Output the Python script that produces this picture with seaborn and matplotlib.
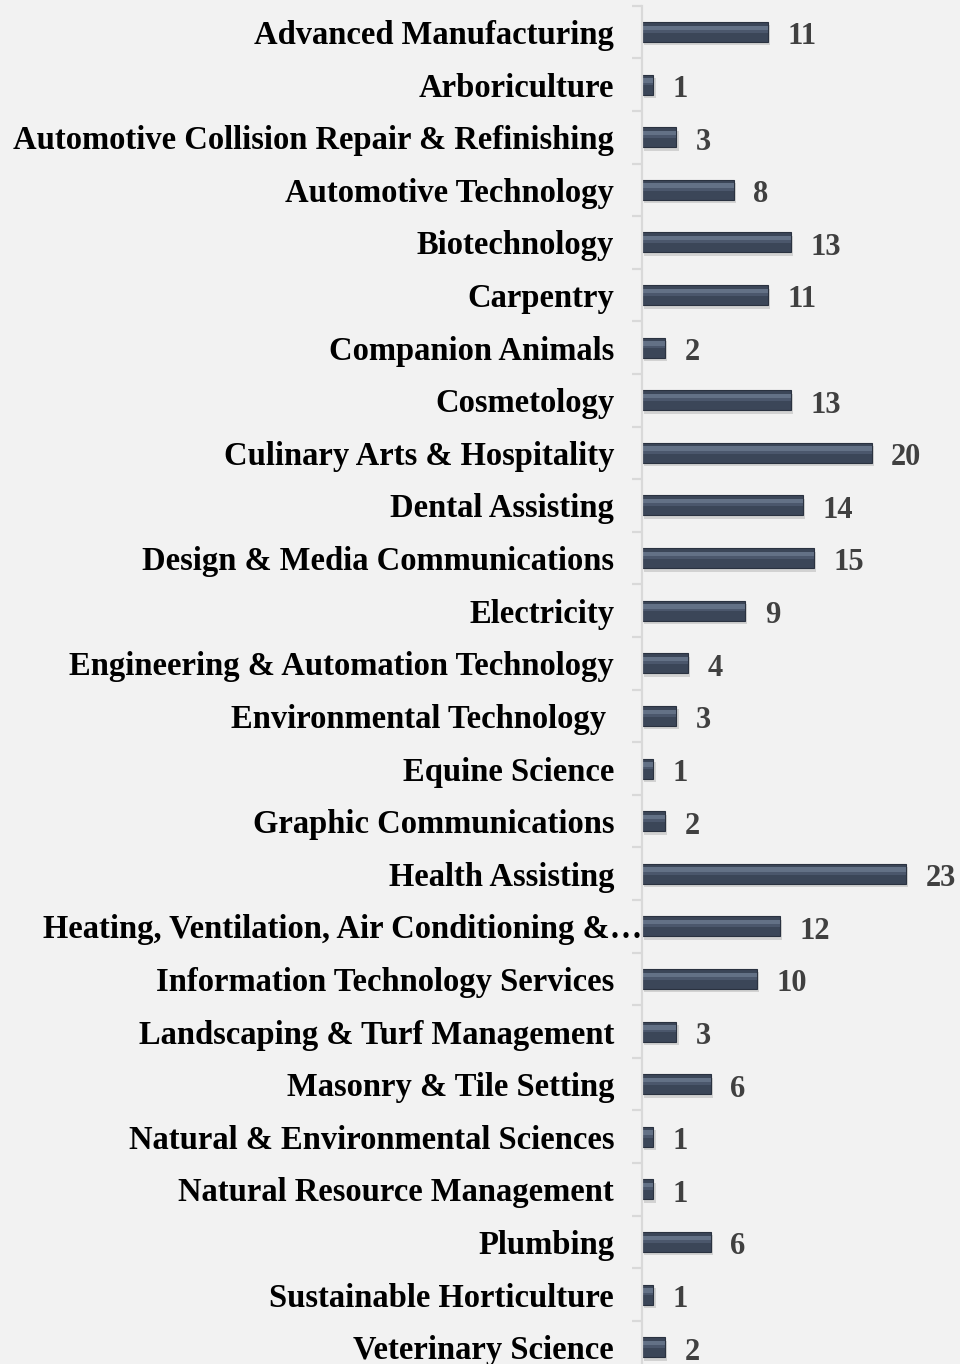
import matplotlib
matplotlib.use("Agg")
import matplotlib.pyplot as plt
import matplotlib.patheffects as pe
import matplotlib.transforms as mtransforms
from matplotlib.patches import Rectangle
import seaborn as sns
import pandas as pd
import numpy as np

categories = [
    "Advanced Manufacturing", "Arboriculture",
    "Automotive Collision Repair & Refinishing", "Automotive Technology",
    "Biotechnology", "Carpentry", "Companion Animals", "Cosmetology",
    "Culinary Arts & Hospitality", "Dental Assisting",
    "Design & Media Communications", "Electricity",
    "Engineering & Automation Technology", "Environmental Technology ",
    "Equine Science", "Graphic Communications", "Health Assisting",
    "Heating, Ventilation, Air Conditioning &\u2026",
    "Information Technology Services", "Landscaping & Turf Management",
    "Masonry & Tile Setting", "Natural & Environmental Sciences",
    "Natural Resource Management", "Plumbing", "Sustainable Horticulture",
    "Veterinary Science",
]
values = [11, 1, 3, 8, 13, 11, 2, 13, 20, 14, 15, 9, 4, 3, 1, 2, 23, 12, 10,
          3, 6, 1, 1, 6, 1, 2]

df = pd.DataFrame({"program": categories, "count": values})

sns.set_theme(style="white")
plt.rcParams["font.family"] = ["Liberation Serif", "DejaVu Serif"]

W, H = 960, 1364
fig = plt.figure(figsize=(W / 100, H / 100), dpi=100, facecolor="#f2f2f2")
ax_left = 642 / W
top_px, bot_px = 5.7, 1373.5
ax = fig.add_axes([ax_left, (H - bot_px) / H, 1 - ax_left, (bot_px - top_px) / H])
ax.set_facecolor("#f2f2f2")

bar_color = "#3b4658"
sns.barplot(data=df, x="count", y="program", orient="h", color=bar_color,
            width=0.38, saturation=1, ax=ax, edgecolor="#2a3240", linewidth=0.8)

ax.set_xlim(0, (W - 642) / 11.48)
ax.set_ylim(len(categories) - 0.5, -0.5)

# bevel highlight + soft shadow derived from the drawn bars
for p in list(ax.patches):
    p.set_path_effects([pe.SimplePatchShadow(offset=(1.5, -2.5), shadow_rgbFace="#000000", alpha=0.13), pe.Normal()])
    x0, y0 = p.get_x(), p.get_y()
    w, h = p.get_width(), p.get_height()
    ax.add_patch(Rectangle((x0, y0 + h * 0.18), w, h * 0.22, facecolor="#718096",
                           edgecolor="none", alpha=0.75, zorder=p.get_zorder() + 0.1))
    ax.add_patch(Rectangle((x0, y0 + h * 0.40), w, h * 0.14, facecolor="#56637a",
                           edgecolor="none", alpha=0.6, zorder=p.get_zorder() + 0.1))

# value labels
for i, v in enumerate(values):
    ax.annotate(str(v), (v, i), xytext=(14, -1), textcoords="offset points",
                ha="left", va="center_baseline", fontsize=22, fontweight="bold",
                color="#404040")

for s in ["top", "right", "bottom"]:
    ax.spines[s].set_visible(False)
ax.spines["left"].set_color("#d9d9d9")
ax.spines["left"].set_linewidth(1.6)
ax.set_xticks([])
ax.set_xlabel("")
ax.set_ylabel("")
ax.set_yticks(np.arange(len(categories)) - 0.5, minor=True)
ax.tick_params(axis="y", which="major", left=False, length=0, pad=20,
               labelsize=23.5, labelcolor="black")
ax.tick_params(axis="y", which="minor", left=True, length=7, width=1.6,
               color="#d9d9d9")
for lab in ax.get_yticklabels():
    lab.set_fontweight("bold")
    if lab.get_text().startswith("Heating"):
        lab.set_transform(lab.get_transform() + mtransforms.ScaledTranslation(28 / 100, 0, fig.dpi_scale_trans))

fig.savefig("out.png", dpi=100, facecolor="#f2f2f2")
